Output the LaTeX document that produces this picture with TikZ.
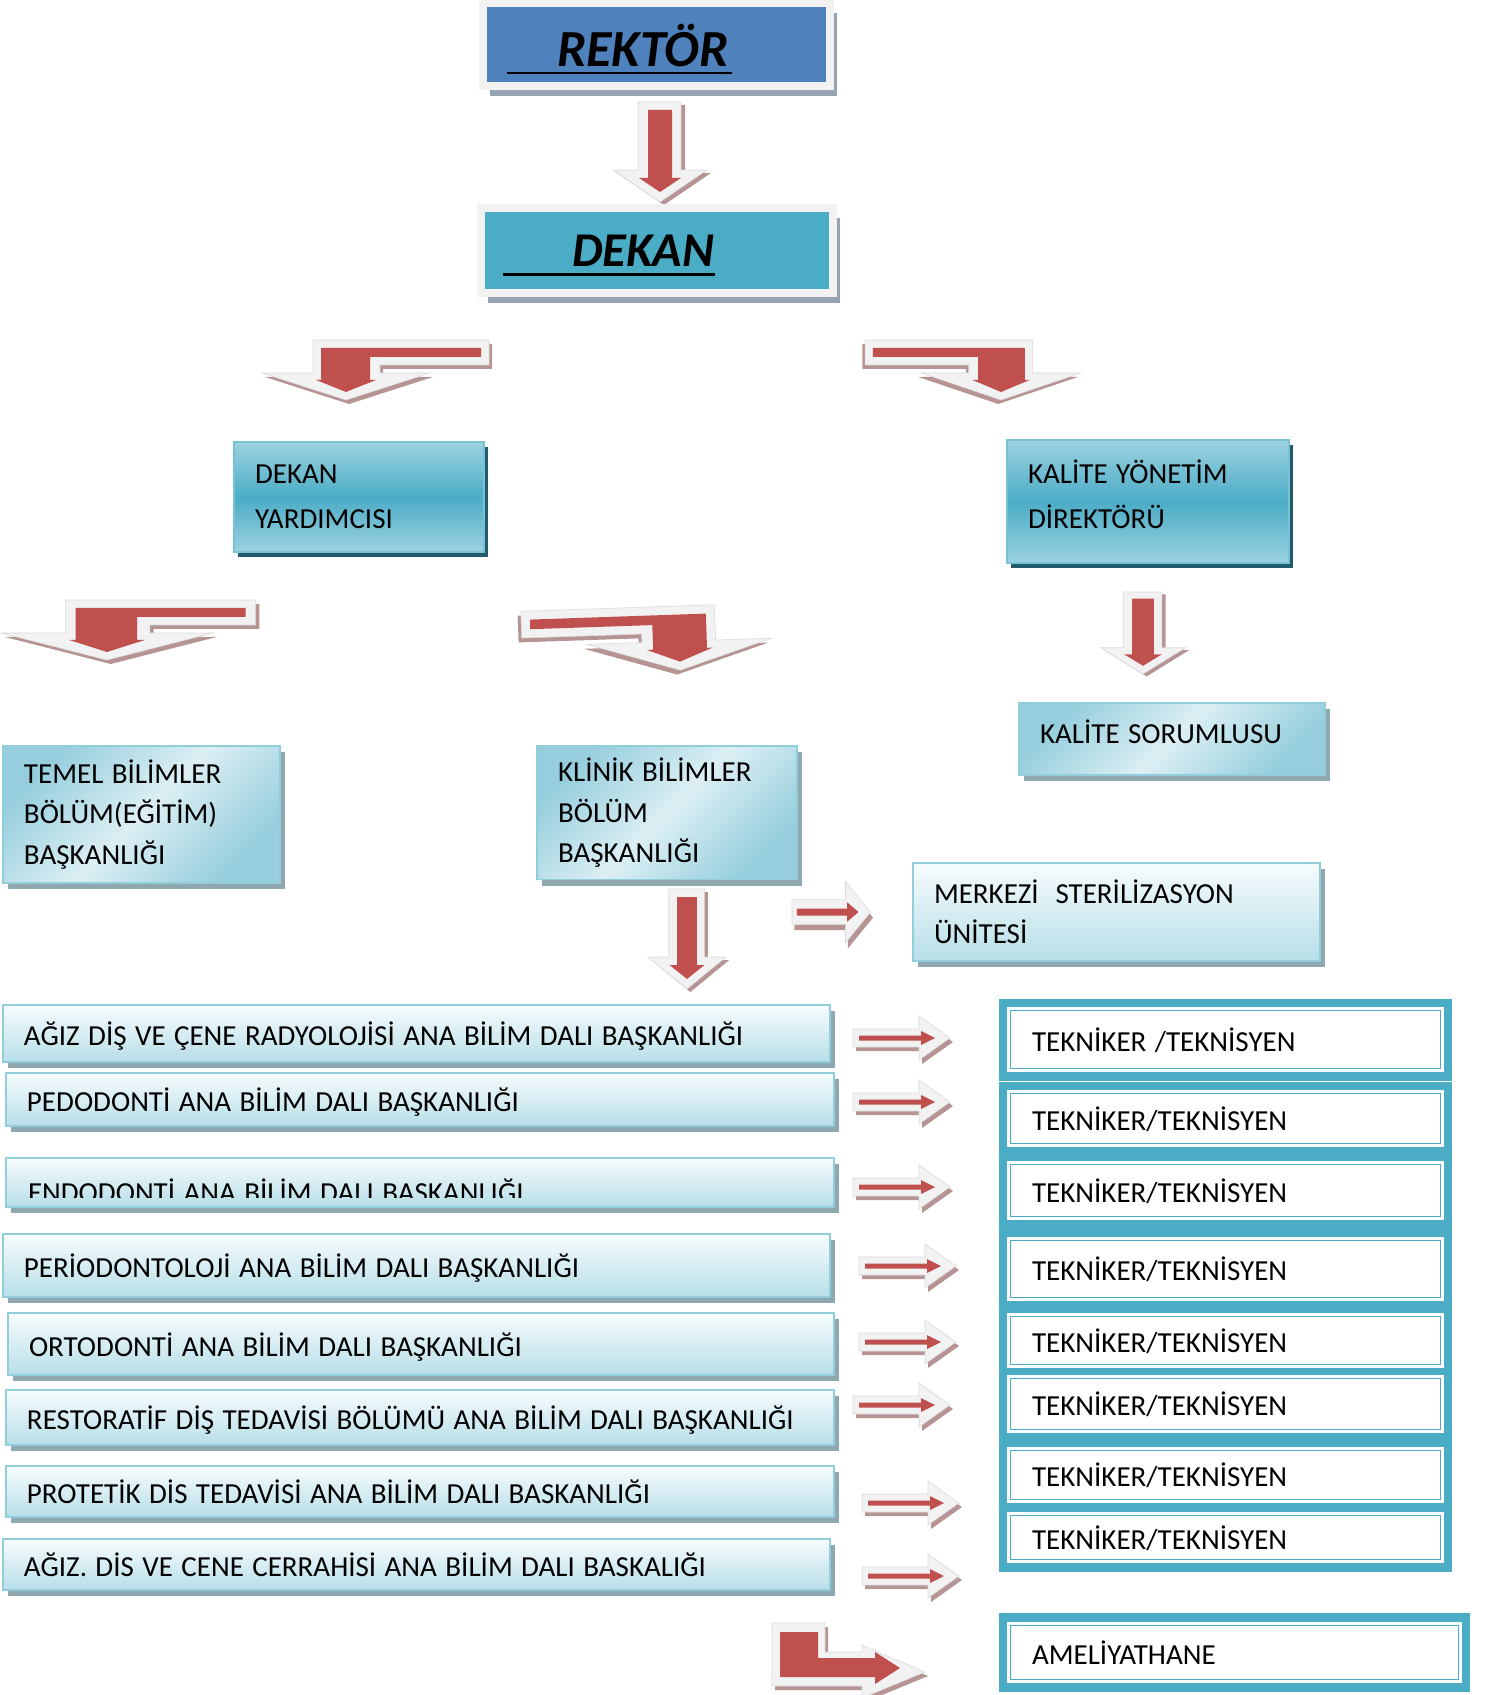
\documentclass[tikz,border=0pt]{standalone}
\usepackage{fontspec}
\setmainfont{Carlito}
\usepackage{tikz}
\usetikzlibrary{calc}
\usetikzlibrary{shadows}

\newlength{\px}
\setlength{\px}{0.01cm}
\newcommand{\wordgap}{\spaceskip=0.29em plus 0.05em minus 0.02em\relax}
\newcommand{\orgfont}{\fontsize{8.25}{11.6}\selectfont\wordgap}
\newcommand{\orgfontwide}{\fontsize{8.25}{12.8}\selectfont\wordgap}
\newcommand{\orgfontnarrow}{\fontsize{8.25}{11.4}\selectfont\wordgap}

\definecolor{rekblue}{HTML}{4F81BD}
\definecolor{dekteal}{HTML}{4BACC6}
\definecolor{framegray}{HTML}{F2F2F2}
\definecolor{frameshadow}{HTML}{96A3B3}
\definecolor{gradedge}{HTML}{9CD2E0}
\definecolor{gradborder}{HTML}{78C2D5}
\definecolor{darkshadow}{HTML}{245B6C}
\definecolor{lightborder}{HTML}{92CDDC}
\definecolor{lighttop}{HTML}{F7FCFD}
\definecolor{lightbot}{HTML}{B7DEE8}
\definecolor{diagdark}{HTML}{96CEDD}
\definecolor{diaglight}{HTML}{DCEFF4}
\definecolor{boxshadow}{HTML}{8FA8B0}
\definecolor{arrred}{HTML}{C0504D}
\definecolor{rosy}{HTML}{B69494}
\definecolor{bevelline}{HTML}{DADADA}

\begin{document}
\begin{tikzpicture}[x=0.01cm, y=-0.01cm]
	\tikzstyle{every node}=[font=\orgfont, outer sep=0pt]
	\tikzset{boxframe/.style = {draw=framegray, line width=8\px, inner sep=0pt, anchor=north west, drop shadow={shadow xshift=7\px, shadow yshift=-10\px, fill=frameshadow, opacity=1}}}
	\tikzset{bigtext/.style = {anchor=base west, inner sep=0pt, font=\fontsize{14.8}{16}\selectfont\bfseries\itshape}}
	\tikzset{boxbase/.style = {anchor=north west, align=flush left, inner xsep=21\px, line width=1.5\px}}
	\tikzset{darkbox/.style = {boxbase, draw=gradborder, top color=gradedge, bottom color=gradedge, middle color=dekteal, font=\orgfontwide, drop shadow={shadow xshift=3.5\px, shadow yshift=-5.5\px, fill=darkshadow, opacity=1}}}
	\tikzset{lightbox/.style = {boxbase, draw=lightborder, top color=lighttop, bottom color=lightbot, drop shadow={shadow xshift=5\px, shadow yshift=-6\px, fill=boxshadow, opacity=1}}}
	\tikzset{diagbox/.style = {boxbase, draw=lightborder, left color=diagdark, right color=diagdark, middle color=diaglight, shading angle=45, drop shadow={shadow xshift=5\px, shadow yshift=-6\px, fill=boxshadow, opacity=1}}}
	\tikzset{deptbox/.style = {lightbox, text height=24\px, text depth=0pt}}
	\tikzset{tekframe/.style = {fill=dekteal, anchor=north west, inner sep=0pt}}
	\tikzset{tekbox/.style = {fill=white, anchor=north west, align=flush left, inner xsep=25\px, text height=23\px, text depth=0pt,
		path picture={\draw[dekteal, line width=1.6\px] ([xshift=3.5\px,yshift=3.5\px]path picture bounding box.south west) rectangle ([xshift=-3.5\px,yshift=-3.5\px]path picture bounding box.north east);}}}
	\tikzset{bevel/.style = {fill=framegray, draw=bevelline, line width=0.6\px}}
	\tikzset{barlen/.store in=\barlen, barlen=143}

%% Block arrows
\tikzset{downarr/.pic = {
	\fill[rosy, shift={(4,3)}] (-22,0) -- (21,0) -- (21,68) -- (47,68) -- (0,100) -- (-47,68) -- (-22,68) -- cycle;
	\path[bevel] (-22,0) -- (21,0) -- (21,68) -- (47,68) -- (0,100) -- (-47,68) -- (-22,68) -- cycle;
	\fill[arrred] (-12,8) -- (12,8) -- (12,76) -- (21,76) -- (0,90) -- (-21,76) -- (-12,76) -- cycle;
}}
\tikzset{bentarr/.pic = {
	\fill[rosy, shift={(3,4)}] (\barlen,0) -- (-33,0) -- (-33,33) -- (-84,33) -- (0,60) -- (84,33) -- (34,33) -- (34,25) -- (\barlen,25) -- cycle;
	\path[bevel] (\barlen,0) -- (-33,0) -- (-33,33) -- (-84,33) -- (0,60) -- (84,33) -- (34,33) -- (34,25) -- (\barlen,25) -- cycle;
	\fill[arrred] ({\barlen-8},8) -- (-25,8) -- (-25,40) -- (-30,40) -- (0,52) -- (30,40) -- (24,40) -- (24,17) -- ({\barlen-8},17) -- cycle;
}}
\tikzset{rightarr/.pic = {
	\fill[rosy, shift={(3,4)}] (0,-9) -- (66,-9) -- (66,-22) -- (97,0) -- (66,22) -- (66,9) -- (0,9) -- cycle;
	\path[bevel] (0,-9) -- (66,-9) -- (66,-22) -- (97,0) -- (66,22) -- (66,9) -- (0,9) -- cycle;
	\fill[arrred] (6,-2.5) -- (68,-2.5) -- (68,-7) -- (82,0) -- (68,7) -- (68,2.5) -- (6,2.5) -- cycle;
}}

\useasboundingbox (0,0) rectangle (1488,1695);

%% Rektor and dekan
\draw (483,3.5) node[boxframe, fill=rekblue, minimum width=347\px, minimum height=83\px, name=rektor]{};
\draw (557,67) node[bigtext, name=rektortxt]{REKTÖR};
\draw[line width=1.4\px] ($(rektortxt.base west)+(-50,6)$) -- ($(rektortxt.base east)+(3,6)$);

\pic at (660,102) {downarr};

\draw (481,208) node[boxframe, fill=dekteal, minimum width=352\px, minimum height=85\px, name=dekan]{};
\draw (572,267) node[bigtext, font=\fontsize{13.8}{16}\selectfont\bfseries\itshape, name=dekantxt]{DEKAN};
\draw[line width=3\px] ($(dekantxt.base west)+(-69,8)$) -- ($(dekantxt.base east)+(1,8)$);

\pic at (346,340) {bentarr};
\pic[xscale=-0.95] at (1001,340) {bentarr};

%% Second level
\draw (234,442) node[darkbox, text width=208\px, minimum height=110\px, name=dyard]{DEKAN\\YARDIMCISI};
\draw (1007,440) node[darkbox, text width=240\px, minimum height=123\px, text depth=60\px, name=kyonetim]{KALİTE YÖNETİM\\DİREKTÖRÜ};

\pic[xscale=1.26, barlen=118] at (107,600) {bentarr};
\pic[xscale=-1.1, yscale=1.07, rotate=-2] at (678,606) {bentarr};
\pic[xscale=0.9, yscale=0.82] at (1143,592) {downarr};

%% Third level
\draw (1019,703) node[diagbox, text width=264\px, minimum height=72\px, text height=12\px, text depth=4\px, name=ksorumlu]{KALİTE SORUMLUSU};
\draw (3,746) node[diagbox, text width=235\px, minimum height=137\px, name=temel]{TEMEL BİLİMLER\\BÖLÜM(EĞİTİM)\\BAŞKANLIĞI};
\draw (537,746) node[diagbox, text width=218\px, minimum height=133\px, name=klinik]{KLİNİK BİLİMLER\\BÖLÜM\\BAŞKANLIĞI};
\draw (913,863) node[lightbox, text width=365\px, minimum height=98\px, font=\orgfontnarrow, name=merkezi]{MERKEZİ\ \ STERİLİZASYON\\ÜNİTESİ};

\pic[xscale=0.81, yscale=1.4] at (792,912) {rightarr};
\pic[xscale=0.83] at (687,889) {downarr};

%% Departments
\draw (3,1005) node[deptbox, text width=785\px, minimum height=57\px, name=radyo]{AĞIZ DİŞ VE ÇENE RADYOLOJİSİ ANA BİLİM DALI BAŞKANLIĞI};
\draw (6,1073) node[deptbox, text width=786\px, minimum height=53\px, name=pedo]{PEDODONTİ ANA BİLİM DALI BAŞKANLIĞI};
\draw (6,1158) node[deptbox, text width=786\px, minimum height=49\px, name=endo]{};
\begin{scope}
	\clip (6,1158) rectangle (834,1197);
	\draw (28,1202) node[anchor=base west, inner sep=0pt, name=endotxt]{ENDODONTİ ANA BİLİM DALI BAŞKANLIĞI};
\end{scope}
\draw (3,1234) node[deptbox, text width=785\px, minimum height=63\px, name=perio]{PERİODONTOLOJİ ANA BİLİM DALI BAŞKANLIĞI};
\draw (8,1313) node[deptbox, text width=784\px, minimum height=62\px, name=orto]{ORTODONTİ ANA BİLİM DALI BAŞKANLIĞI};
\draw (6,1390) node[deptbox, text width=786\px, minimum height=55\px, name=resto]{RESTORATİF DİŞ TEDAVİSİ BÖLÜMÜ ANA BİLİM DALI BAŞKANLIĞI};
\draw (6,1466) node[deptbox, text width=786\px, minimum height=51\px, name=prot]{PROTETİK DİS TEDAVİSİ ANA BİLİM DALI BASKANLIĞI};
\draw (3,1539) node[deptbox, text width=785\px, minimum height=51\px, name=cerr]{AĞIZ. DİS VE CENE CERRAHİSİ ANA BİLİM DALI BASKALIĞI};

%% Small arrows
\pic at (853,1038) {rightarr};
\pic at (853,1102) {rightarr};
\pic at (853,1187) {rightarr};
\pic at (859,1266) {rightarr};
\pic at (859,1342) {rightarr};
\pic at (853,1405) {rightarr};
\pic at (862,1503) {rightarr};
\pic at (862,1576) {rightarr};

%% L arrow to ameliyathane
\fill[rosy, shift={(3,4)}] (772,1623) -- (825,1623) -- (825,1652) -- (862,1652) -- (862,1645) -- (925,1672) -- (862,1698) -- (862,1686) -- (772,1686) -- cycle;
\path[bevel] (772,1623) -- (825,1623) -- (825,1652) -- (862,1652) -- (862,1645) -- (925,1672) -- (862,1698) -- (862,1686) -- (772,1686) -- cycle;
\fill[arrred] (780,1632) -- (818,1632) -- (818,1658) -- (875,1658) -- (875,1652) -- (900,1668) -- (875,1684) -- (875,1677) -- (780,1677) -- cycle;

%% Tekniker column
\draw (999,999) node[tekframe, minimum width=453\px, minimum height=573\px, name=tekall]{};
\draw[white, line width=1\px] (tekall.west |- 0,1081) -- (tekall.east |- 0,1081);
\draw (1007,1007) node[tekbox, text width=387\px, minimum height=65\px, name=tek1]{TEKNİKER /TEKNİSYEN};
\draw (1007,1090) node[tekbox, text width=387\px, minimum height=57\px, name=tek2]{TEKNİKER/TEKNİSYEN};
\draw (1007,1161) node[tekbox, text width=387\px, minimum height=59\px, name=tek3]{TEKNİKER/TEKNİSYEN};
\draw (1007,1237) node[tekbox, text width=387\px, minimum height=64\px, name=tek4]{TEKNİKER/TEKNİSYEN};
\draw (1007,1313) node[tekbox, text width=387\px, minimum height=55\px, name=tek5]{TEKNİKER/TEKNİSYEN};
\draw (1007,1375) node[tekbox, text width=387\px, minimum height=58\px, name=tek6]{TEKNİKER/TEKNİSYEN};
\draw (1007,1447) node[tekbox, text width=387\px, minimum height=56\px, name=tek7]{TEKNİKER/TEKNİSYEN};
\draw (1007,1512) node[tekbox, text width=387\px, minimum height=51\px, name=tek8]{TEKNİKER/TEKNİSYEN};

\draw (999,1613) node[tekframe, minimum width=471\px, minimum height=79\px, name=amelframe]{};
\draw (1007,1622) node[tekbox, text width=405\px, minimum height=61\px, name=amel]{AMELİYATHANE};

\end{tikzpicture}
\end{document}
